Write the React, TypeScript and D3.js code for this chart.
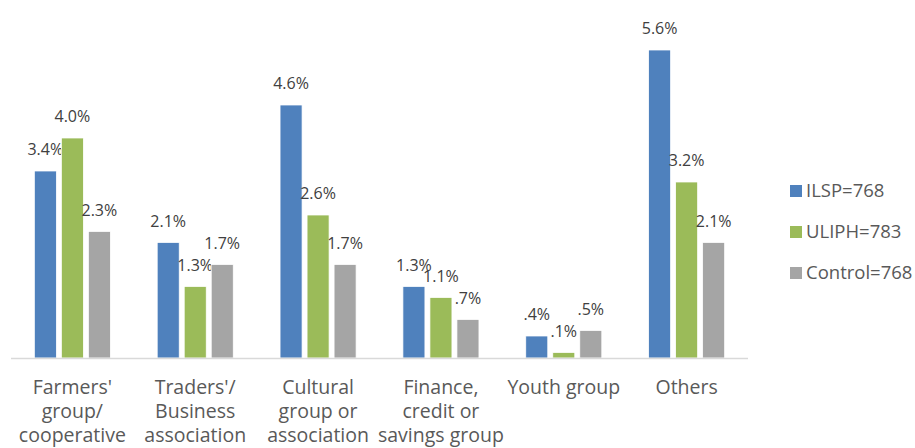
import React from "react";
import * as d3 from "d3";

const categories: string[][] = [
  ["Farmers'", "group/", "cooperative"],
  ["Traders'/", "Business", "association"],
  ["Cultural", "group or", "association"],
  ["Finance,", "credit or", "savings group"],
  ["Youth group"],
  ["Others"],
];
const seriesNames = ["ILSP=768", "ULIPH=783", "Control=768"];
const ilsp = [3.4, 2.1, 4.6, 1.3, 0.4, 5.6];
const uliph = [4.0, 1.3, 2.6, 1.1, 0.1, 3.2];
const control = [2.3, 1.7, 1.7, 0.7, 0.5, 2.1];
const colors = ["#4F81BD", "#9BBB59", "#A5A5A5"];

const W = 915;
const H = 448;
const FONT = "'Open Sans', sans-serif";

const fmt = (v: number) => d3.format(".1f")(v).replace(/^0\./, ".") + "%";

export default function App() {
  const series = [ilsp, uliph, control];
  const x0 = d3
    .scaleBand<number>()
    .domain(categories.map((_, i) => i))
    .range([11, 748])
    .paddingInner(0.381)
    .paddingOuter(0.19);
  const x1 = d3
    .scaleBand<number>()
    .domain([0, 1, 2])
    .range([0, x0.bandwidth()])
    .paddingInner(0.185)
    .paddingOuter(0);
  const y = d3.scaleLinear().domain([0, 6]).range([358, 358 - 330]);
  const y0 = y(0);

  return (
    <svg
      width={W}
      height={H}
      style={{ position: "absolute", left: 0, top: 0, background: "#fff" }}
      fontFamily={FONT}
    >
      <rect x={0} y={0} width={W} height={H} fill="#fff" />
      {series.map((vals, s) =>
        vals.map((v, i) => {
          const bx = (x0(i) as number) + (x1(s) as number);
          const bw = x1.bandwidth();
          return (
            <g key={`${s}-${i}`}>
              <rect
                x={bx}
                y={y(v)}
                width={bw}
                height={y0 - y(v)}
                fill={colors[s]}
                stroke="#fff"
                strokeWidth={0.75}
              />
              <text
                x={bx + bw / 2}
                y={y(v) - 16}
                textAnchor="middle"
                fontSize={16}
                fill="#404040"
              >
                {fmt(v)}
              </text>
            </g>
          );
        })
      )}
      <line x1={11} x2={748} y1={y0 + 0.5} y2={y0 + 0.5} stroke="#D9D9D9" strokeWidth={1.5} />
      {categories.map((lines, i) => {
        const cx = (x0(i) as number) + x0.bandwidth() / 2;
        return (
          <text key={i} textAnchor="middle" fontSize={19.5} fill="#595959">
            {lines.map((l, k) => (
              <tspan key={k} x={cx} y={394 + k * 24}>
                {l}
              </tspan>
            ))}
          </text>
        );
      })}
      {seriesNames.map((n, s) => (
        <g key={n} transform={`translate(790, ${185 + s * 41})`}>
          <rect x={0} y={0} width={12} height={12} fill={colors[s]} />
          <text x={16} y={6} dy="0.35em" fontSize={18.5} fill="#595959">
            {n}
          </text>
        </g>
      ))}
    </svg>
  );
}
